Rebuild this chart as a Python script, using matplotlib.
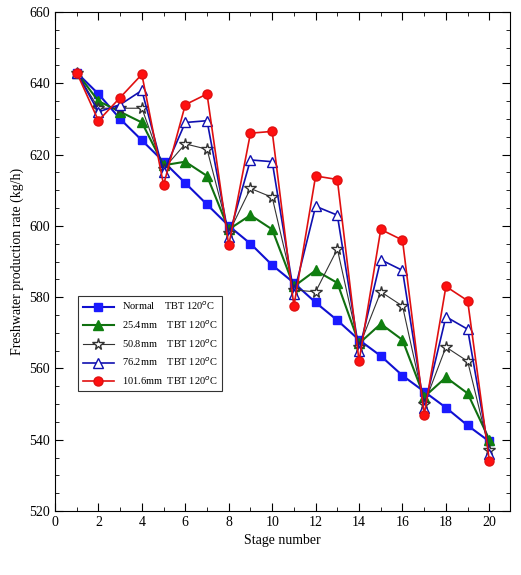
import matplotlib
matplotlib.use("Agg")
import matplotlib.pyplot as plt
from matplotlib.ticker import MultipleLocator

plt.rcParams['font.family'] = ['Liberation Serif', 'DejaVu Serif']
stages = list(range(1, 21))
normal = [643,637,630,624,618,612,606,600,595,589,584,578.5,573.5,568,563.5,558,553.5,549,544,539.5]
s254 = [643,635,632,629,617,618,614,599,603,599,583,587.5,584,567,572.5,568,552,557.5,553,540]
s508 = [643,633,633,633,616,623,621.5,598,610.5,608,582,581.5,593.5,566,581.5,577.5,550,566,562,537]
s762 = [643,632,634,638,615,629,629.5,597,618.5,618,581,605.5,603,565,590.5,587.5,549,574.5,571,536]
s1016 = [643,629.5,636,642.5,611.5,634,637,594.5,626,626.5,577.5,614,613,562,599,596,547,583,579,534]
labels = ["Normal    TBT 120$^o$C", "25.4mm    TBT 120$^o$C", "50.8mm    TBT 120$^o$C",
          "76.2mm    TBT 120$^o$C", "101.6mm  TBT 120$^o$C"]

fig = plt.figure(figsize=(5.21, 5.75), dpi=100)
ax = fig.add_axes([55/521, 64/575, 455/521, 499/575])
ax.plot(stages, normal, '-s', color='#1010d0', mfc='#1a1aff', mec='#1a1aff', ms=5.5, lw=1.5, label=labels[0])
ax.plot(stages, s254, '-^', color='#107010', mfc='#108010', mec='#108010', ms=6.5, lw=1.5, label=labels[1])
ax.plot(stages, s508, '-*', color='#333333', mfc='white', mec='#333333', ms=8.5, lw=0.8, label=labels[2])
ax.plot(stages, s762, '-^', color='#1010b0', mfc='white', mec='#1010b0', ms=7.5, lw=1.2, label=labels[3])
ax.plot(stages, s1016, '-o', color='#e01010', mfc='#ff1010', mec='#e01010', ms=6.5, lw=1.2, label=labels[4])
ax.set_xlim(0, 20.95)
ax.set_ylim(520, 660)
ax.xaxis.set_major_locator(MultipleLocator(2))
ax.xaxis.set_minor_locator(MultipleLocator(1))
ax.yaxis.set_major_locator(MultipleLocator(20))
ax.yaxis.set_minor_locator(MultipleLocator(5))
ax.tick_params(which='both', direction='in', top=True, right=True, labelsize=10)
ax.tick_params(which='major', length=6)
ax.tick_params(which='minor', length=3)
ax.set_xlabel("Stage number", fontsize=10)
ax.set_ylabel("Freshwater production rate (kg/h)", fontsize=10)
leg = ax.legend(loc='lower left', bbox_to_anchor=(0.04, 0.23), fontsize=7.5, frameon=True,
                fancybox=False, edgecolor='black', handlelength=3, labelspacing=0.6)
leg.get_frame().set_linewidth(0.8)
fig.savefig("out.png", dpi=100)
